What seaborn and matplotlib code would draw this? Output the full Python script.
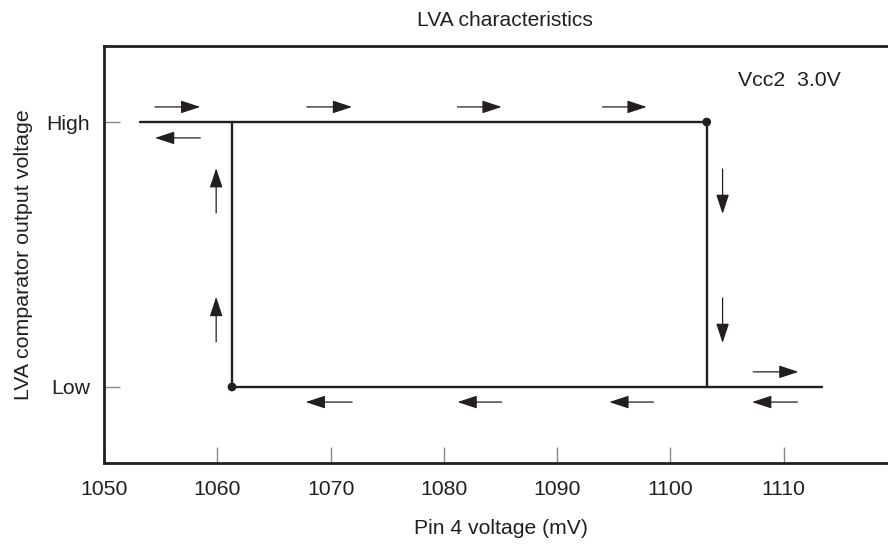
import matplotlib
matplotlib.use("Agg")
import matplotlib.pyplot as plt
import seaborn as sns
import pandas as pd

sns.set_theme(style="white")
plt.rcParams['font.family'] = ['Liberation Sans', 'DejaVu Sans']

# hysteresis loop segments (mV, level: 0 = Low, 1 = High)
seg_id = ["top", "top", "right", "right", "bottom", "bottom", "left", "left"]
seg_x = [1053.2, 1103.2, 1103.2, 1103.2, 1061.3, 1113.4, 1061.3, 1061.3]
seg_y = [1, 1, 1, 0, 0, 0, 0, 1]
dot_x = [1103.2, 1061.3]
dot_y = [1, 0]

# direction arrows: start -> end
arrow_x0 = [1054.5, 1067.9, 1081.2, 1094.0, 1058.5, 1071.9, 1085.1, 1098.5, 1111.2, 1107.3, 1059.9, 1059.9, 1104.6, 1104.6]
arrow_y0 = [1.057, 1.057, 1.057, 1.057, 0.94, -0.057, -0.057, -0.057, -0.057, 0.057, 0.17, 0.657, 0.823, 0.336]
arrow_x1 = [1058.5, 1071.9, 1085.1, 1097.9, 1054.5, 1067.8, 1081.2, 1094.6, 1107.2, 1111.3, 1059.9, 1059.9, 1104.6, 1104.6]
arrow_y1 = [1.057, 1.057, 1.057, 1.057, 0.94, -0.057, -0.057, -0.057, -0.057, 0.057, 0.34, 0.826, 0.653, 0.166]

x_ticks = [1050, 1060, 1070, 1080, 1090, 1100, 1110]
y_ticks = [0, 1]
y_ticklabels = ["Low", "High"]

fig = plt.figure(figsize=(8.88, 5.45), dpi=100)
ax = fig.add_axes([104/888, 1-463/545, (888-104)/888 + 0.01, (463-46)/545])

dark = "#231f20"
df = pd.DataFrame({"seg": seg_id, "x": seg_x, "y": seg_y})
sns.lineplot(data=df, x="x", y="y", units="seg", ax=ax, color=dark, lw=1.7,
             sort=False, estimator=None)
sns.scatterplot(x=dot_x, y=dot_y, ax=ax, color=dark, s=40, edgecolor="none", zorder=5)

for x0, y0, x1, y1 in zip(arrow_x0, arrow_y0, arrow_x1, arrow_y1):
    ax.annotate("", xy=(x1, y1), xytext=(x0, y0),
                arrowprops=dict(arrowstyle="-|>,head_length=1.0,head_width=0.33",
                                color=dark, lw=0.9, shrinkA=0, shrinkB=0,
                                mutation_scale=12))

ax.set_xlim(1050, 1119.2 + 0.01 * 69.2 / 0.883)
ax.set_ylim(-0.287, 1.287)
ax.set_xticks(x_ticks)
ax.set_yticks(y_ticks)
ax.set_yticklabels(y_ticklabels)
ax.tick_params(axis="both", direction="in", length=11.5, width=1, color="#888888",
               labelsize=15.3, labelcolor=dark, bottom=True, left=True)
ax.tick_params(axis="x", pad=12)
ax.tick_params(axis="y", pad=10)
for s in ["left", "top", "bottom"]:
    ax.spines[s].set_color(dark)
    ax.spines[s].set_linewidth(2.0)
ax.spines["right"].set_visible(False)

ax.set_xlabel("Pin 4 voltage (mV)", fontsize=15.2, color=dark, labelpad=15)
ax.set_ylabel("LVA comparator output voltage", fontsize=15.4, color=dark, labelpad=10)
fig.text(505/888, 1-20/545, "LVA characteristics", fontsize=15.1, color=dark,
         ha="center", va="center")
ax.text(1105.96, 1.155, "Vcc2  3.0V", fontsize=15.3, color=dark, ha="left", va="center")

fig.savefig("out.png", dpi=100)
